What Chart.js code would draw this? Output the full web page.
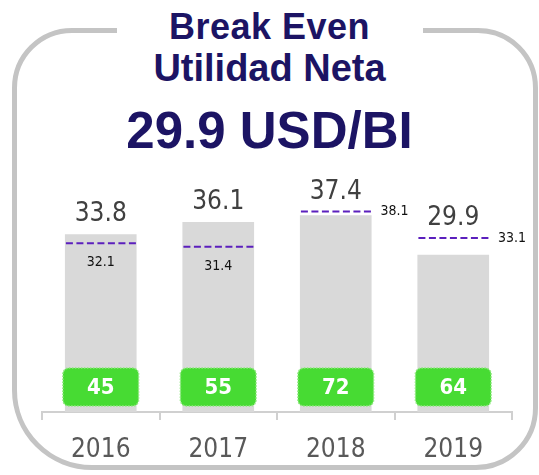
<!DOCTYPE html>
<html lang="es">
<head>
  <meta charset="UTF-8">
  <title>Break Even Utilidad Neta</title>
  <script src="https://cdn.jsdelivr.net/npm/chart.js"></script>
  <style>
    body { margin: 0; background: #fff; }
    .lienzo { position: relative; width: 539px; height: 475px; overflow: hidden; }
    .marco {
      position: absolute; left: 12px; top: 28px; width: 526px; height: 442px;
      box-sizing: border-box; border: 5px solid #c4c4c4;
      border-radius: 60px 60px 62px 80px;
    }
    .hueco { position: absolute; left: 117px; top: 24px; width: 306px; height: 14px; background: #fff; }
    .titulo {
      position: absolute; left: 0; width: 539px; text-align: center;
      font-family: "Liberation Sans", Arial, sans-serif; font-weight: bold;
      color: #1c1464; line-height: 1; white-space: nowrap;
    }
    #grafico { position: absolute; left: 0; top: 0; }
  </style>
</head>
<body>
  <div class="lienzo">
    <div class="marco"></div>
    <div class="hueco"></div>
    <div class="titulo" style="top: 9px; font-size: 36px; letter-spacing: 0.5px;">Break Even</div>
    <div class="titulo" style="top: 49px; font-size: 38px;">Utilidad Neta</div>
    <div class="titulo" style="top: 105px; font-size: 51px;">29.9 USD/BI</div>
    <canvas id="grafico" width="539" height="475"></canvas>
  </div>

<script>
  const categorias = ['2016', '2017', '2018', '2019'];
  const breakEven = [33.8, 36.1, 37.4, 29.9];
  const presupuesto = [32.1, 31.4, 38.1, 33.1];
  const volumen = [45, 55, 72, 64];

  const fuente = '"DejaVu Sans Condensed", "DejaVu Sans", sans-serif';

  // etiquetas, lineas punteadas y cajas verdes
  const extras = {
    id: 'extras',
    afterDatasetsDraw(chart) {
      const ctx = chart.ctx;
      const y = chart.scales.y;
      const base = y.getPixelForValue(0);
      chart.getDatasetMeta(0).data.forEach((bar, i) => {
        const izq = bar.x - bar.width / 2;
        const der = bar.x + bar.width / 2;
        const ly = y.getPixelForValue(presupuesto[i]);

        ctx.save();
        ctx.setLineDash([7, 3.5]);
        ctx.strokeStyle = '#5b1fbd';
        ctx.lineWidth = 2;
        ctx.beginPath();
        ctx.moveTo(izq + 1, ly);
        ctx.lineTo(der + 1, ly);
        ctx.stroke();
        ctx.restore();

        ctx.save();
        ctx.fillStyle = '#111';
        ctx.font = '14px ' + fuente;
        if (presupuesto[i] > breakEven[i]) {
          ctx.textAlign = 'left';
          ctx.textBaseline = 'middle';
          ctx.fillText(presupuesto[i].toFixed(1), der + 9, ly);
        } else {
          ctx.textAlign = 'center';
          ctx.textBaseline = 'alphabetic';
          ctx.fillText(presupuesto[i].toFixed(1), bar.x, ly + 23);
        }

        ctx.fillStyle = '#404040';
        ctx.font = '26px ' + fuente;
        ctx.textAlign = 'center';
        ctx.textBaseline = 'alphabetic';
        ctx.fillText(breakEven[i].toFixed(1), bar.x, Math.min(bar.y, ly) - 13);

        ctx.beginPath();
        ctx.roundRect(izq - 2, base - 44, bar.width + 4, 38, 6);
        ctx.fillStyle = '#47db33';
        ctx.fill();
        ctx.setLineDash([1.5, 1.5]);
        ctx.strokeStyle = '#8ee97e';
        ctx.lineWidth = 1.5;
        ctx.stroke();

        ctx.fillStyle = '#fff';
        ctx.font = 'bold 22px ' + fuente;
        ctx.textBaseline = 'middle';
        ctx.fillText(volumen[i], bar.x, base - 24);
        ctx.restore();
      });
    }
  };

  new Chart(document.getElementById('grafico'), {
    type: 'bar',
    data: {
      labels: categorias,
      datasets: [{
        data: breakEven,
        backgroundColor: '#d9d9d9',
        barPercentage: 0.61,
        categoryPercentage: 1
      }]
    },
    options: {
      responsive: false,
      animation: false,
      devicePixelRatio: 1,
      layout: { padding: { top: 149, left: 42, right: 27, bottom: -5 } },
      plugins: { legend: { display: false }, tooltip: { enabled: false } },
      scales: {
        x: {
          grid: { offset: true, drawOnChartArea: false, drawTicks: true, tickLength: 8, color: '#d0d0d0', lineWidth: 2 },
          border: { display: true, color: '#d0d0d0', width: 2 },
          ticks: { color: '#595959', padding: 17, font: { family: fuente, size: 26, lineHeight: 1 } }
        },
        y: { display: false, min: 0, max: 50 }
      }
    },
    plugins: [extras]
  });
</script>
</body>
</html>
